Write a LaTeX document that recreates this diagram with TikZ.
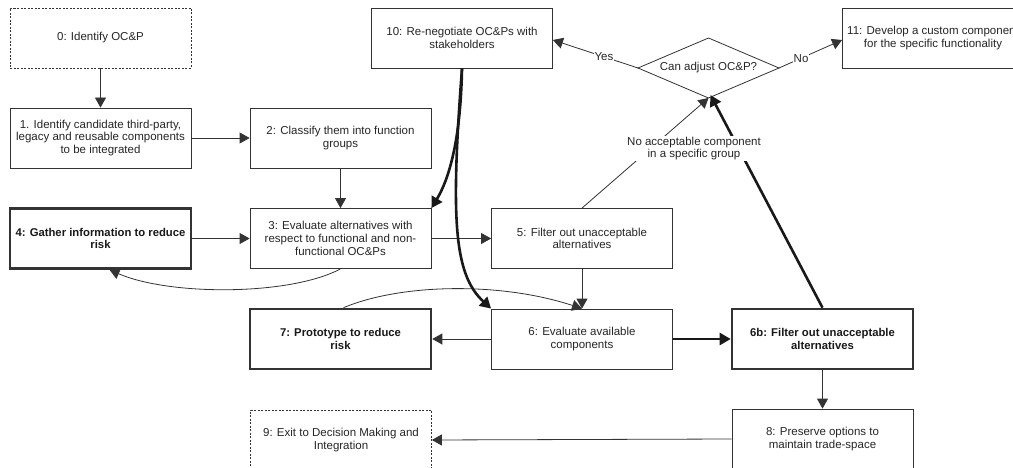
\documentclass[tikz,border=0pt]{standalone}
\usepackage{fontspec}
\setmainfont{Liberation Sans}
\usetikzlibrary{arrows.meta}
\begin{document}
\begin{tikzpicture}[x=1pt,y=-1pt,
  every node/.style={font=\fontsize{11.5}{12.7}\selectfont, text=black!85},
  box/.style={draw=black!80, line width=0.8pt, rectangle, minimum width=181pt, minimum height=60pt, align=center, inner sep=2pt},
  thickbox/.style={box, line width=2.6pt, font=\fontsize{11.3}{12.7}\selectfont\bfseries, text=black!90},
  dashbox/.style={box, line width=0.7pt, dash pattern=on 2pt off 1.5pt},
  arr/.style={draw=black!80, line width=0.8pt, -{Triangle[length=10pt,width=11pt]}},
  tarr/.style={draw=black!90, line width=2.6pt, -{Triangle[length=11pt,width=12pt]}},
  plain/.style={draw=black!80, line width=0.8pt},
  lbl/.style={fill=white, inner sep=1pt, align=center}
]
\clip (0,0) rectangle (1013,468);
\fill[white] (0,0) rectangle (1013,468);

\node[dashbox] (n0) at (100.5,38) {0: Identify OC\&P};
\node[box] (n1) at (100.5,138) {1. Identify candidate third-party,\\legacy and reusable components\\to be integrated};
\node[box] (n2) at (340.5,138) {2: Classify them into function\\groups};
\node[box] (n10) at (462,38) {10: Re-negotiate OC\&Ps with\\stakeholders};
\coordinate (dN) at (708.5,38);
\coordinate (dS) at (708.5,98);
\coordinate (dW) at (638,68);
\coordinate (dE) at (779,68);
\draw[plain] (dN) -- (dE) -- (dS) -- (dW) -- cycle;
\node (d) at (708.5,68) {Can adjust OC\&P?};
\node[box] (n11) at (933,38) {11: Develop a custom component\\for the specific functionality};
\node[thickbox] (n4) at (100.5,238.5) {4: Gather information to reduce\\risk};
\node[box] (n3) at (340.5,238.5) {3: Evaluate alternatives with\\respect to functional and non-\\functional OC\&Ps};
\node[box] (n5) at (582,238.5) {5: Filter out unacceptable\\alternatives};
\node[thickbox] (n7) at (340.5,339) {7: Prototype to reduce\\risk};
\node[box] (n6) at (582,339) {6: Evaluate available\\components};
\node[thickbox] (n6b) at (822.5,339) {6b: Filter out unacceptable\\alternatives};
\node[dashbox] (n9) at (341,440) {9: Exit to Decision Making and\\Integration};
\node[box] (n8) at (822.5,439) {8: Preserve options to\\maintain trade-space};

\draw[arr] (n0) -- (n1);
\draw[arr] (n1) -- (n2);
\draw[arr] (n2) -- (n3);
\draw[arr] (n4) -- (n3);
\draw[arr] (n3) -- (n5);
\draw[arr] (n5) -- (n6);
\draw[arr] (n6) -- (n7);
\draw[tarr] (n6) -- (n6b);
\draw[arr] (n6b) -- (n8);
\draw[arr] (n8.west) -- (n9.east);

\draw[arr] (n3.south) .. controls +(-51,27) and +(60,26) .. ([xshift=9pt]n4.south);
\draw[arr] ([xshift=3pt]n7.north) .. controls +(57,-24) and +(-82,-27) .. (n6.north);

\draw[tarr] (n10.south) .. controls +(-1.5,82) and +(14,-23) .. (n3.north east);
\draw[tarr] (n10.south) .. controls +(-11.5,152) and +(-37,-34) .. (n6.north west);

\draw[arr] (n5.north) -- (dS);
\draw[tarr] (n6b.north) -- ([shift={(2pt,3pt)}]dS);
\node[lbl] (la) at (694,148.5) {No acceptable component\\in a specific group};

\draw[arr] (dW) -- node[lbl, pos=0.4] (ly) {Yes} ([yshift=-2pt]n10.east);
\draw[arr] (dE) -- node[lbl, pos=0.35] (ln) {No} ([yshift=-2pt]n11.west);
\end{tikzpicture}
\end{document}
